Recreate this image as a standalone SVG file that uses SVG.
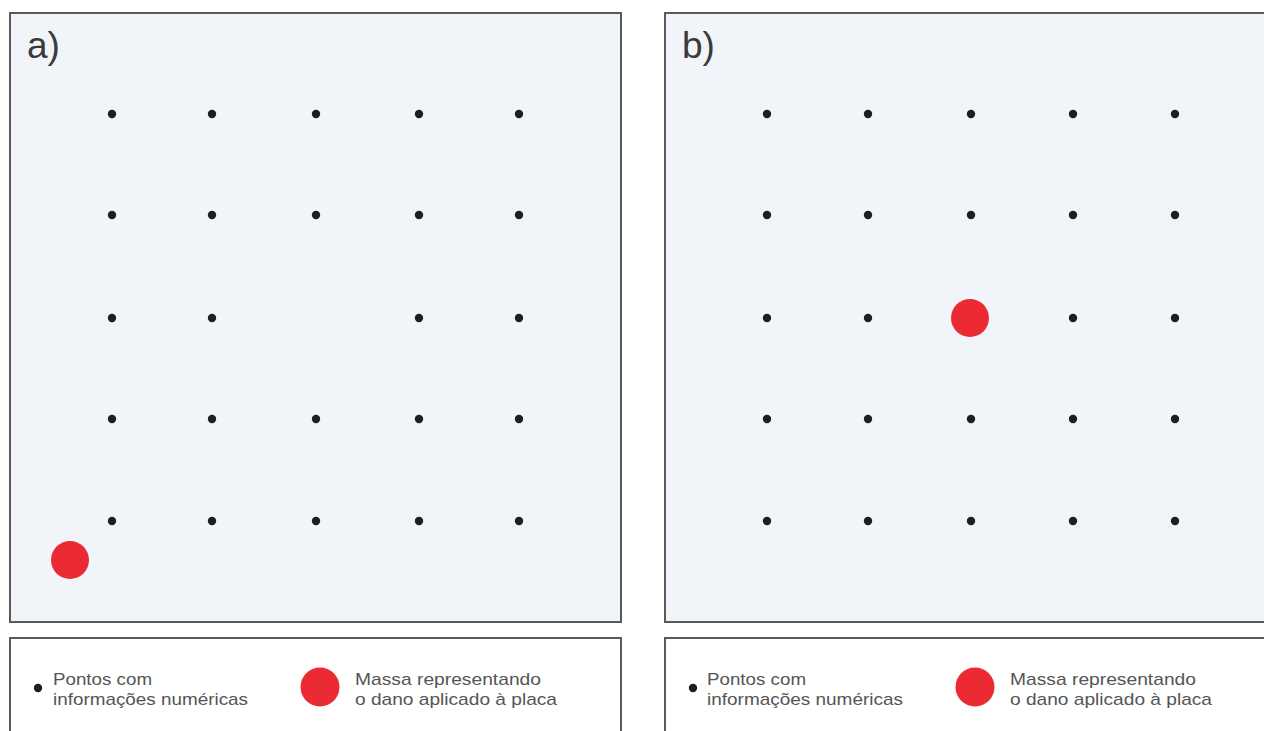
<svg xmlns="http://www.w3.org/2000/svg" width="1264" height="731" viewBox="0 0 1264 731">
<style>
.panel{fill:#f1f4f8;stroke:#5a5a5a;stroke-width:2}
.legend{fill:#ffffff;stroke:#5a5a5a;stroke-width:2}
.dot{fill:#1e1e1e}
.mass{fill:#ec2a34}
.lbl{font-family:"Liberation Sans",Arial,sans-serif;font-size:37px;fill:#3a3a3a}
.lt{font-family:"Liberation Sans",Arial,sans-serif;font-size:17px;fill:#555555}
</style>
<defs>
<circle id="d" r="4.2" class="dot"/>
</defs>
<rect width="1264" height="731" fill="#ffffff"/>
<g id="panel-a">
<rect class="panel" x="10" y="13" width="611" height="609"/>
<text class="lbl" x="27" y="58">a)</text>
<g id="points-a">
<use href="#d" x="112" y="114"/><use href="#d" x="212" y="114"/><use href="#d" x="316" y="114"/><use href="#d" x="419" y="114"/><use href="#d" x="519" y="114"/>
<use href="#d" x="112" y="215"/><use href="#d" x="212" y="215"/><use href="#d" x="316" y="215"/><use href="#d" x="419" y="215"/><use href="#d" x="519" y="215"/>
<use href="#d" x="112" y="318"/><use href="#d" x="212" y="318"/><use href="#d" x="419" y="318"/><use href="#d" x="519" y="318"/>
<use href="#d" x="112" y="419"/><use href="#d" x="212" y="419"/><use href="#d" x="316" y="419"/><use href="#d" x="419" y="419"/><use href="#d" x="519" y="419"/>
<use href="#d" x="112" y="521"/><use href="#d" x="212" y="521"/><use href="#d" x="316" y="521"/><use href="#d" x="419" y="521"/><use href="#d" x="519" y="521"/>
</g>
<circle id="mass-a" class="mass" cx="70" cy="560" r="19"/>
</g>
<g id="panel-b">
<rect class="panel" x="665" y="13" width="610" height="609"/>
<text class="lbl" x="682" y="58">b)</text>
<g id="points-b">
<use href="#d" x="767" y="114"/><use href="#d" x="868" y="114"/><use href="#d" x="971" y="114"/><use href="#d" x="1073" y="114"/><use href="#d" x="1175" y="114"/>
<use href="#d" x="767" y="215"/><use href="#d" x="868" y="215"/><use href="#d" x="971" y="215"/><use href="#d" x="1073" y="215"/><use href="#d" x="1175" y="215"/>
<use href="#d" x="767" y="318"/><use href="#d" x="868" y="318"/><use href="#d" x="1073" y="318"/><use href="#d" x="1175" y="318"/>
<use href="#d" x="767" y="419"/><use href="#d" x="868" y="419"/><use href="#d" x="971" y="419"/><use href="#d" x="1073" y="419"/><use href="#d" x="1175" y="419"/>
<use href="#d" x="767" y="521"/><use href="#d" x="868" y="521"/><use href="#d" x="971" y="521"/><use href="#d" x="1073" y="521"/><use href="#d" x="1175" y="521"/>
</g>
<circle id="mass-b" class="mass" cx="970" cy="318" r="19"/>
</g>
<g id="legend-a">
<rect class="legend" x="10" y="638" width="611" height="110"/>
<circle class="dot" cx="38" cy="688" r="4.2"/>
<text class="lt" x="53" y="685" textLength="99" lengthAdjust="spacingAndGlyphs">Pontos com</text>
<text class="lt" x="53" y="705" textLength="195" lengthAdjust="spacingAndGlyphs">informações numéricas</text>
<circle class="mass" cx="320" cy="687" r="19.5"/>
<text class="lt" x="355" y="685" textLength="186" lengthAdjust="spacingAndGlyphs">Massa representando</text>
<text class="lt" x="355" y="705" textLength="202" lengthAdjust="spacingAndGlyphs">o dano aplicado à placa</text>
</g>
<g id="legend-b">
<rect class="legend" x="665" y="638" width="610" height="110"/>
<circle class="dot" cx="693" cy="688" r="4.2"/>
<text class="lt" x="707" y="685" textLength="99" lengthAdjust="spacingAndGlyphs">Pontos com</text>
<text class="lt" x="707" y="705" textLength="196" lengthAdjust="spacingAndGlyphs">informações numéricas</text>
<circle class="mass" cx="975" cy="687" r="19.5"/>
<text class="lt" x="1010" y="685" textLength="186" lengthAdjust="spacingAndGlyphs">Massa representando</text>
<text class="lt" x="1010" y="705" textLength="202" lengthAdjust="spacingAndGlyphs">o dano aplicado à placa</text>
</g>
<g id="connectors"/>
</svg>
